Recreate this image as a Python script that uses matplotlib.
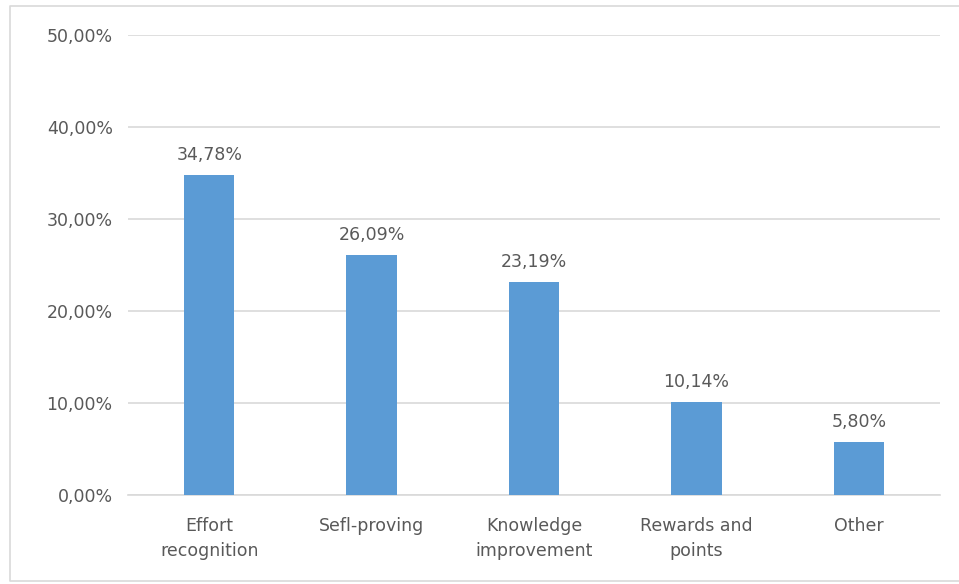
import matplotlib.pyplot as plt
from matplotlib.lines import Line2D

categories = ["Effort\nrecognition", "Sefl-proving", "Knowledge\nimprovement",
              "Rewards and\npoints", "Other"]
values = [34.78, 26.09, 23.19, 10.14, 5.80]
yticks = [0, 10, 20, 30, 40, 50]

text_color = "#595959"
bar_color = "#5B9BD5"
grid_color = "#D9D9D9"

plt.rcParams["font.family"] = ["DejaVu Sans"]

fig = plt.figure(figsize=(9.59, 5.84), dpi=100)
ax = fig.add_axes([128 / 959, 89 / 584, 812 / 959, 460 / 584])

x = range(len(categories))
bars = ax.bar(x, values, width=0.31, color=bar_color, zorder=3)

for b, v in zip(bars, values):
    label = f"{v:.2f}%".replace(".", ",")
    ax.annotate(label, (b.get_x() + b.get_width() / 2, v),
                xytext=(0, 8), textcoords="offset points",
                ha="center", va="bottom", fontsize=12.5, color=text_color)

ax.set_xlim(-0.5, len(categories) - 0.5)
ax.set_ylim(0, 50)
ax.set_yticks(yticks)
ax.set_yticklabels([f"{t:.2f}%".replace(".", ",") for t in yticks])
ax.set_xticks(list(x))
ax.set_xticklabels(categories, linespacing=1.45)
ax.tick_params(axis="both", length=0, labelsize=12.5, labelcolor=text_color)
ax.tick_params(axis="y", pad=11)
ax.tick_params(axis="x", pad=16)
ax.grid(axis="y", color=grid_color, linewidth=1.2, zorder=0)
for s in ["top", "right", "left"]:
    ax.spines[s].set_visible(False)
ax.spines["bottom"].set_color(grid_color)
ax.spines["bottom"].set_linewidth(1.2)

# light frame around the chart area
fx = [1.5, 10 / 959, 10 / 959, 1.5]
fy = [1 - 6 / 584, 1 - 6 / 584, 3 / 584, 3 / 584]
fig.add_artist(Line2D(fx, fy, color="#D9D9D9", linewidth=1.2,
                      transform=fig.transFigure))

fig.savefig("out.png", dpi=100)
